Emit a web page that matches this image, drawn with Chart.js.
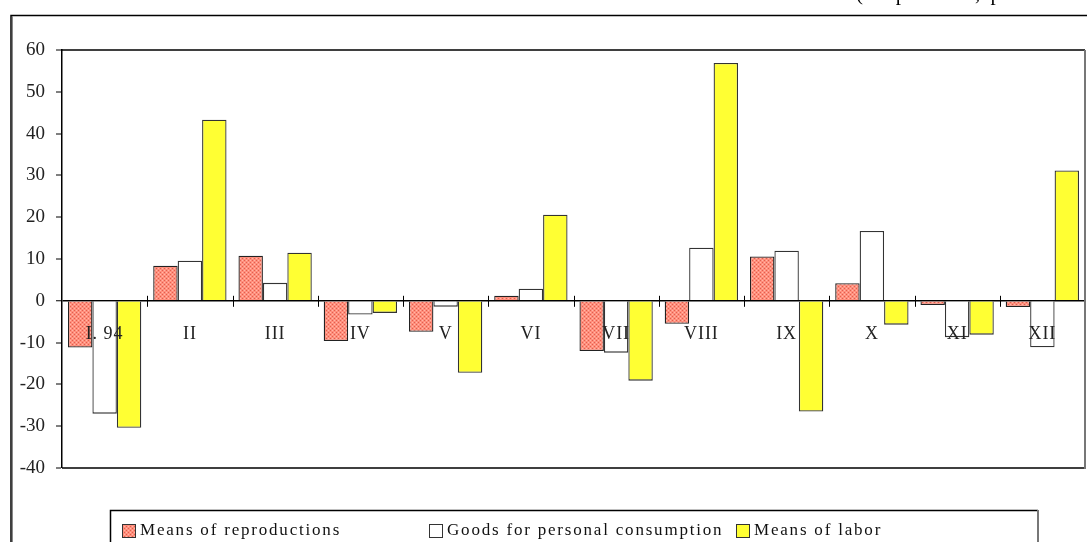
<!DOCTYPE html>
<html>
<head>
<meta charset="utf-8">
<script src="https://cdn.jsdelivr.net/npm/chart.js@4"></script>
<style>
  html, body { margin: 0; padding: 0; background: #fff; }
  #wrap { width: 1087px; height: 542px; }
</style>
</head>
<body>
<div id="wrap"><canvas id="myChart" width="1087" height="542"></canvas></div>
<script>
// data
let months = ["I. 94", "II", "III", "IV", "V", "VI", "VII", "VIII", "IX", "X", "XI", "XII"];
let reproduction = [-11.2, 8.4, 10.8, -9.6, -7.4, 1.2, -12, -5.5, 10.6, 4.2, -1.0, -1.5];
let consumption = [-27, 9.6, 4.3, -3.3, -1.4, 2.9, -12.4, 12.7, 12.0, 16.7, -8.7, -11.1];
let labor = [-30.4, 43.3, 11.5, -2.9, -17.2, 20.6, -19.1, 56.9, -26.5, -5.7, -8.1, 31.2];
let series_names = ["Means of reproductions", "Goods for personal consumption", "Means of labor"];
let y_ticks = [60, 50, 40, 30, 20, 10, 0, -10, -20, -30, -40];

const FONT = '"Liberation Serif", "DejaVu Serif", serif';

// dotted salmon fill like the original
let makeDots = () => {
    let c = document.createElement("canvas");
    c.width = 4; c.height = 4;
    let g = c.getContext("2d");
    g.fillStyle = "#ff8e7c";
    g.fillRect(0, 0, 4, 4);
    g.fillStyle = "#e0604e";
    g.fillRect(0, 0, 1, 1);
    g.fillRect(2, 2, 1, 1);
    g.fillStyle = "#ffb8a8";
    g.fillRect(2, 0, 1, 1);
    g.fillRect(0, 2, 1, 1);
    return g.createPattern(c, "repeat");
};
let dots = makeDots();

let fills = [dots, "#ffffff", "#ffff33"];

// frame, zero-line ticks, category labels, legend, caption
let decorations = {
    id: "decorations",
    afterDraw(chart) {
        let ctx = chart.ctx;
        let a = chart.chartArea;
        let x = chart.scales.x;
        let y = chart.scales.y;
        let zero = y.getPixelForValue(0);
        ctx.save();

        // outer frame
        ctx.strokeStyle = "#000";
        ctx.lineWidth = 1.5;
        ctx.beginPath();
        ctx.moveTo(11, 542);
        ctx.lineTo(11, 15.5);
        ctx.lineTo(1087, 15.5);
        ctx.stroke();
        ctx.strokeStyle = "#888";
        ctx.lineWidth = 1;
        ctx.beginPath();
        ctx.moveTo(12.5, 16);
        ctx.lineTo(12.5, 542);
        ctx.stroke();

        // plot top, bottom + right border
        ctx.strokeStyle = "#000";
        ctx.lineWidth = 1.5;
        ctx.beginPath();
        ctx.moveTo(a.left, a.top);
        ctx.lineTo(a.right, a.top);
        ctx.moveTo(a.left, a.bottom);
        ctx.lineTo(a.right, a.bottom);
        ctx.stroke();
        ctx.strokeStyle = "#777";
        ctx.lineWidth = 2;
        ctx.beginPath();
        ctx.moveTo(a.right, a.top);
        ctx.lineTo(a.right, a.bottom + 1);
        ctx.stroke();

        // category ticks on the zero line
        ctx.strokeStyle = "#000";
        ctx.lineWidth = 1;
        let step = (a.right - a.left) / months.length;
        for (let i = 1; i < months.length; i++) {
            let px = Math.round(a.left + step * i) + 0.5;
            ctx.beginPath();
            ctx.moveTo(px, zero - 5);
            ctx.lineTo(px, zero + 6);
            ctx.stroke();
        }

        // category labels under the zero line
        ctx.fillStyle = "#222";
        ctx.font = "18px " + FONT;
        ctx.textAlign = "center";
        ctx.textBaseline = "middle";
        ctx.letterSpacing = "1px";
        months.forEach((m, i) => {
            ctx.fillText(m, x.getPixelForValue(i), zero + 33);
        });

        // legend box
        ctx.strokeStyle = "#000";
        ctx.lineWidth = 1.5;
        ctx.beginPath();
        ctx.moveTo(110.5, 542);
        ctx.lineTo(110.5, 510.5);
        ctx.lineTo(1038, 510.5);
        ctx.stroke();
        ctx.strokeStyle = "#777";
        ctx.lineWidth = 2;
        ctx.beginPath();
        ctx.moveTo(1038, 510);
        ctx.lineTo(1038, 542);
        ctx.stroke();

        let swatchX = [122, 429, 736];
        ctx.textAlign = "left";
        ctx.font = "17px " + FONT;
        ctx.letterSpacing = "1.8px";
        series_names.forEach((name, i) => {
            ctx.fillStyle = fills[i];
            ctx.fillRect(swatchX[i], 524, 13, 13);
            ctx.strokeStyle = "#333";
            ctx.lineWidth = 1;
            ctx.strokeRect(swatchX[i] + 0.5, 524.5, 13, 13);
            ctx.fillStyle = "#111";
            ctx.fillText(name, swatchX[i] + 18, 531);
        });

        // caption, cut off by the top edge
        ctx.textBaseline = "alphabetic";
        ctx.font = "21px " + FONT;
        ctx.letterSpacing = "2.5px";
        ctx.fillStyle = "#000";
        ctx.fillText("(In percent, per month)", 856, 0);

        ctx.restore();
    }
};

let myChart = new Chart("myChart", {
    type: "bar",
    data: {
        labels: months,
        datasets: [
            {label: series_names[0], data: reproduction, backgroundColor: fills[0], borderColor: "#222", borderWidth: 1.3},
            {label: series_names[1], data: consumption, backgroundColor: fills[1], borderColor: "#333", borderWidth: 1.3},
            {label: series_names[2], data: labor, backgroundColor: fills[2], borderColor: "#333", borderWidth: 1.3}
        ]
    },
    options: {
        responsive: false,
        animation: false,
        layout: {
            padding: {left: 0, top: 50, right: 2, bottom: 74}
        },
        plugins: {
            legend: {display: false},
            tooltip: {enabled: false}
        },
        datasets: {
            bar: {
                barPercentage: 1,
                categoryPercentage: 0.86
            }
        },
        scales: {
            x: {
                display: false
            },
            y: {
                min: -40,
                max: 60,
                afterFit: (scale) => { scale.width = 62; },
                afterBuildTicks: (scale) => {
                    scale.ticks = y_ticks.map(v => ({value: v}));
                },
                border: {display: true, color: "#000", width: 1.5},
                grid: {
                    drawOnChartArea: true,
                    color: (c) => c.tick && c.tick.value === 0 ? "#000" : "rgba(0,0,0,0)",
                    lineWidth: (c) => c.tick && c.tick.value === 0 ? 1.5 : 0,
                    tickColor: "#000",
                    tickLength: 6,
                    tickWidth: 1
                },
                ticks: {
                    color: "#222",
                    padding: 11,
                    font: {family: FONT, size: 19},
                    callback: (v) => v < 0 ? "-" + Math.abs(v) : String(v)
                }
            }
        }
    },
    plugins: [decorations]
});
</script>
</body>
</html>
